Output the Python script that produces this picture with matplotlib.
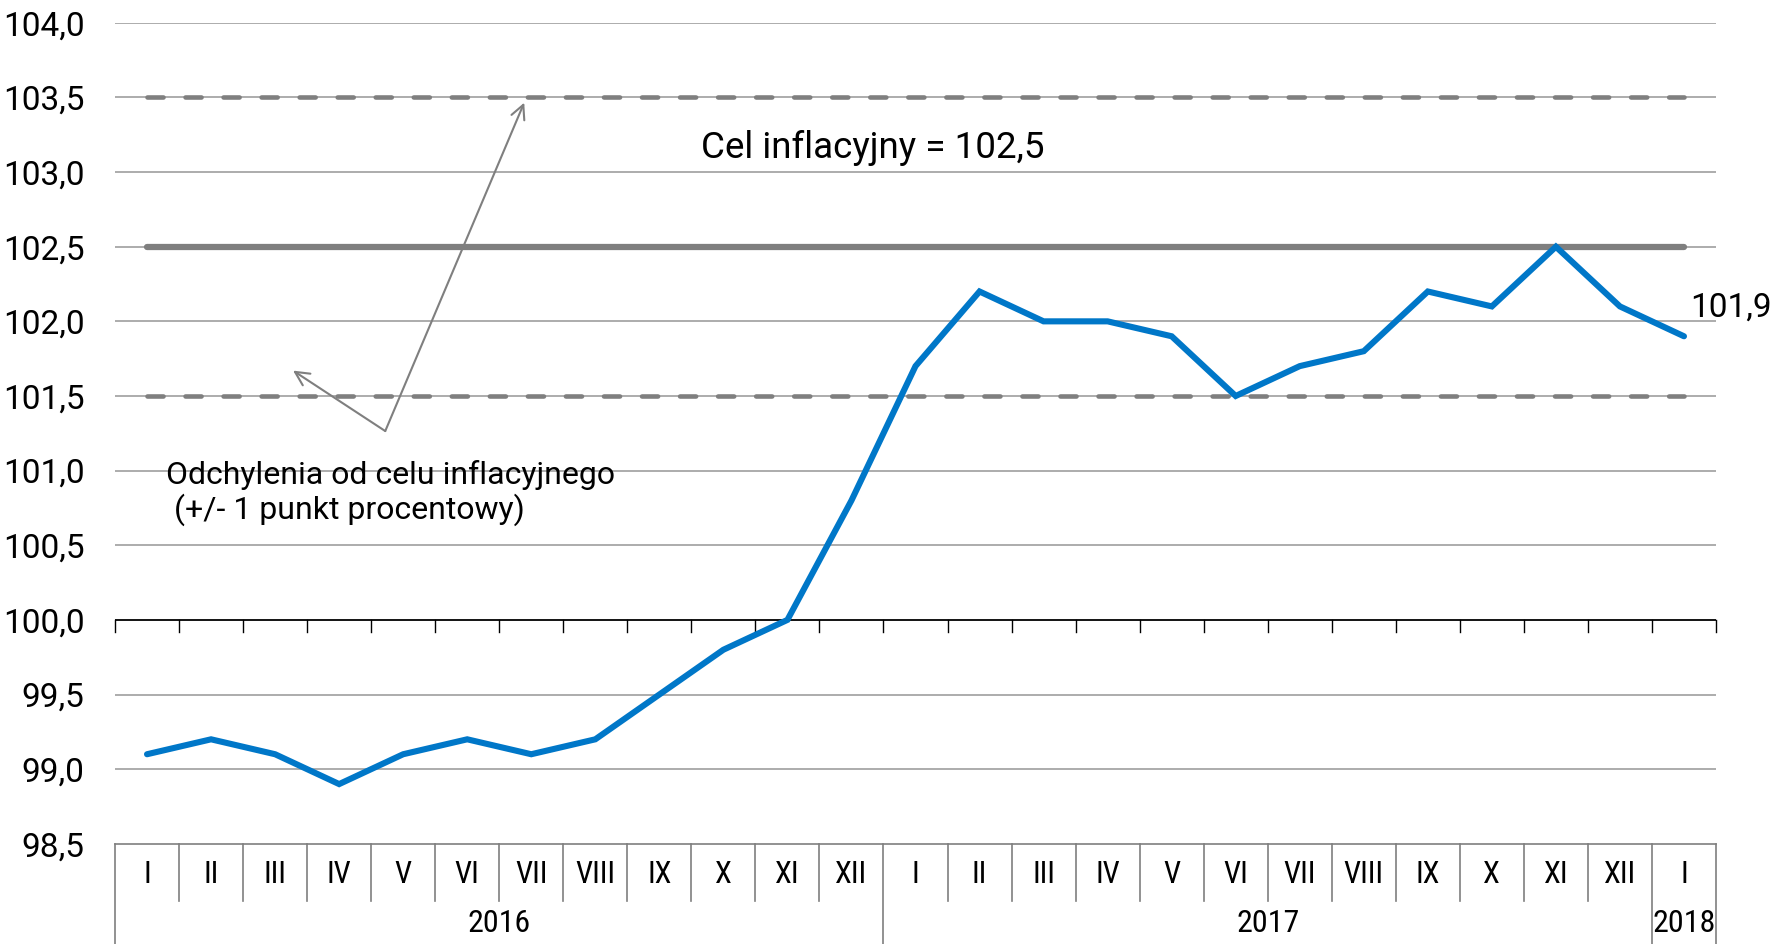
import numpy as np
import matplotlib.pyplot as plt
import matplotlib.transforms as mtransforms

# CPI, same month previous year = 100
months_2016 = ['I', 'II', 'III', 'IV', 'V', 'VI', 'VII', 'VIII', 'IX', 'X', 'XI', 'XII']
months_2017 = ['I', 'II', 'III', 'IV', 'V', 'VI', 'VII', 'VIII', 'IX', 'X', 'XI', 'XII']
months_2018 = ['I']
cpi_2016 = [99.1, 99.2, 99.1, 98.9, 99.1, 99.2, 99.1, 99.2, 99.5, 99.8, 100.0, 100.8]
cpi_2017 = [101.7, 102.2, 102.0, 102.0, 101.9, 101.5, 101.7, 101.8, 102.2, 102.1, 102.5, 102.1]
cpi_2018 = [101.9]
years = ['2016', '2017', '2018']

target = 102.5
band = 1.0

labels = months_2016 + months_2017 + months_2018
values = cpi_2016 + cpi_2017 + cpi_2018
n = len(values)
x = np.arange(n)

plt.rcParams['font.family'] = ['Roboto', 'DejaVu Sans']
narrow = ['Liberation Sans Narrow', 'Roboto Condensed', 'DejaVu Sans']

fig = plt.figure(figsize=(17.88, 9.44), dpi=100)
ax = fig.add_axes([115 / 1788, 1 - 843.8 / 944, (1716 - 115) / 1788, (843.8 - 22.8) / 944])

ax.set_xlim(-0.5, n - 0.5)
ax.set_ylim(98.5, 104.0)
yt = np.arange(98.5, 104.01, 0.5)
ax.set_yticks(yt)
ax.set_yticklabels([('%.1f' % v).replace('.', ',') for v in yt], fontsize=24)
ax.tick_params(axis='y', length=0, pad=22)
ax.set_xticks([])
for s in ['left', 'right', 'top']:
    ax.spines[s].set_visible(False)
ax.spines['bottom'].set_color('#7f7f7f')
ax.spines['bottom'].set_linewidth(1.2)

# grid
for v in yt:
    if v in (98.5, 100.0):
        continue
    ax.axhline(v, color='#a6a6a6', lw=1.3, zorder=1)

# category axis crossing at 100
ax.axhline(100.0, color='black', lw=1.3, zorder=2)
tr = mtransforms.blended_transform_factory(ax.transData, ax.transAxes)
tick_len = 12.5 / 821
y100 = (100.0 - 98.5) / 5.5
for k in range(n + 1):
    ax.plot([k - 0.5, k - 0.5], [y100, y100 - tick_len], transform=tr, color='black', lw=1.0, clip_on=False)

# target and band
ax.plot([0, n - 1], [target, target], color='#7f7f7f', lw=4.5, solid_capstyle='round', zorder=3)
for lvl in (target - band, target + band):
    ax.plot([0, n - 1], [lvl, lvl], color='#7f7f7f', lw=3.3, dashes=(3.5, 4.8),
            dash_capstyle='round', zorder=3)

# CPI line
ax.plot(x, values, color='#0077c8', lw=4.4, solid_capstyle='round', solid_joinstyle='miter', zorder=4)

ax.text(n - 1 + 0.1, values[-1] + 0.19, ('%.1f' % values[-1]).replace('.', ','), fontsize=24,
        ha='left', va='center')
ax.text(8.65, 103.16, 'Cel inflacyjny = ' + ('%.1f' % target).replace('.', ','), fontsize=26.5,
        ha='left', va='center')
ax.text(0.3, 100.85, 'Odchylenia od celu inflacyjnego\n (+/- 1 punkt procentowy)', fontsize=23,
        ha='left', va='center', linespacing=1.15)

arrow = dict(arrowstyle='->', color='#7f7f7f', lw=1.5, mutation_scale=25, shrinkA=0, shrinkB=0)
ax.annotate('', xy=(5.89, 103.465), xytext=(3.72, 101.265), arrowprops=arrow)
ax.annotate('', xy=(2.28, 101.67), xytext=(3.72, 101.265), arrowprops=arrow)

# category table below the plot
month_sep = 57 / 821
bottom = -(944 - 843.8) / 821
year_bounds = [-0.5, 11.5, 23.5, 24.5]
for k in range(n + 1):
    xb = k - 0.5
    y1 = bottom if xb in year_bounds else -month_sep
    ax.plot([xb, xb], [0, y1], transform=tr, color='#7f7f7f', lw=1.2, clip_on=False)
for i, lab in enumerate(labels):
    ax.text(i, -0.0375, lab, transform=tr, ha='center', va='center', fontsize=22, family=narrow)
for j, yr in enumerate(years):
    xc = (year_bounds[j] + year_bounds[j + 1]) / 2
    ax.text(xc, -0.097, yr, transform=tr, ha='center', va='center', fontsize=23, family=narrow)

fig.savefig('out.png', dpi=100)
